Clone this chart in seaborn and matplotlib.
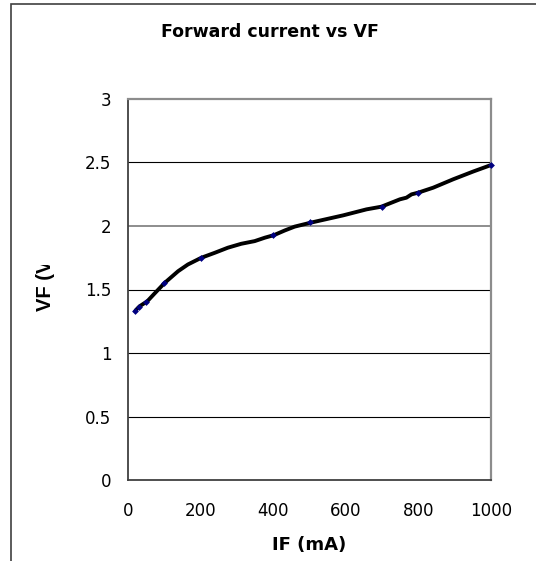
import matplotlib
matplotlib.use("Agg")
import matplotlib.pyplot as plt
import seaborn as sns
import pandas as pd
from matplotlib.patches import Rectangle
from matplotlib.transforms import Bbox

# Measured points (markers)
if_ma = [20, 30, 50, 100, 200, 400, 500, 700, 800, 1000]
vf_v = [1.33, 1.36, 1.40, 1.55, 1.75, 1.93, 2.03, 2.15, 2.26, 2.48]

# Traced curve (thick black line)
curve_if = [20, 23, 32, 53, 73, 101, 138, 165, 202, 239, 275, 312, 349, 377,
            402, 432, 459, 503, 593, 657, 698, 749, 767, 781, 800, 841, 896, 951, 1000]
curve_vf = [1.33, 1.342, 1.368, 1.407, 1.468, 1.552, 1.644, 1.697, 1.750, 1.789,
            1.829, 1.860, 1.881, 1.908, 1.928, 1.965, 1.995, 2.026, 2.084, 2.131,
            2.152, 2.21, 2.223, 2.249, 2.263, 2.302, 2.368, 2.429, 2.48]

title = "Forward current vs VF"
xlabel = "IF (mA)"
ylabel = "VF (V)"
xticks = [0, 200, 400, 600, 800, 1000]
yticks = [0, 0.5, 1, 1.5, 2, 2.5, 3]
ytick_labels = ["0", "0.5", "1", "1.5", "2", "2.5", "3"]
grid_levels = [0.5, 1, 1.5, 2, 2.5]

sns.set_style("white")
plt.rcParams['font.family'] = ['DejaVu Sans']
plt.rcParams['text.color'] = 'black'

W, H = 536, 561
fig = plt.figure(figsize=(W / 100, H / 100), dpi=100)
ax = fig.add_axes([128 / W, 1 - 480 / H, (491 - 128) / W, (480 - 99) / H])

curve_df = pd.DataFrame({"IF": curve_if, "VF": curve_vf})
pts_df = pd.DataFrame({"IF": if_ma, "VF": vf_v})

sns.lineplot(data=curve_df, x="IF", y="VF", sort=False, estimator=None,
             color="black", linewidth=2.8, ax=ax, zorder=3)
sns.scatterplot(data=pts_df, x="IF", y="VF", marker="D", s=12, color="#000080",
                edgecolor="#000080", linewidth=0, ax=ax, zorder=4, clip_on=False)

ax.set_xlim(0, 1000)
ax.set_ylim(0, 3)
ax.set_xticks(xticks)
ax.set_xticklabels([str(t) for t in xticks])
ax.set_yticks(yticks)
ax.set_yticklabels(ytick_labels)

for g in grid_levels:
    col = "#7a7a7a" if g == 2 else "black"
    lw = 1.2 if g == 2 else 0.8
    ax.axhline(g, color=col, linewidth=lw, zorder=1)

for side in ["top", "right"]:
    ax.spines[side].set_color("#8c8c8c")
    ax.spines[side].set_linewidth(1.6)
for side in ["left", "bottom"]:
    ax.spines[side].set_color("#404040")
    ax.spines[side].set_linewidth(1.3)
    ax.spines[side].set_visible(True)

ax.tick_params(axis="both", which="major", direction="out", length=5, width=1,
               color="#404040", labelsize=12, labelcolor="black")
ax.tick_params(axis="y", pad=7)
ax.tick_params(axis="x", pad=11)
ax.set_xlabel("")
ax.set_ylabel("")

fig.text(270 / W, 1 - 37 / H, title, ha="center", va="baseline",
         fontsize=12.5, fontweight="bold", color="black")
fig.text(309 / W, 1 - 550 / H, xlabel, ha="center", va="baseline",
         fontsize=13, fontweight="bold", color="black")
yl = fig.text(45.5 / W, 1 - 311 / H, ylabel, ha="center", va="bottom",
              rotation=90, fontsize=14.5, fontweight="bold", color="black",
              family="Liberation Sans")
# the label is cut off at the top in the reference
yl.set_clip_on(True)
yl.set_clip_box(Bbox.from_extents(0, 0, W, H - 265))

fig.patches.append(Rectangle((11 / W, -0.1), 1.2, 1 - 4 / H + 0.1,
                             transform=fig.transFigure, fill=False,
                             edgecolor="#404040", linewidth=1.2))

fig.savefig("out.png", dpi=100, facecolor="white")
